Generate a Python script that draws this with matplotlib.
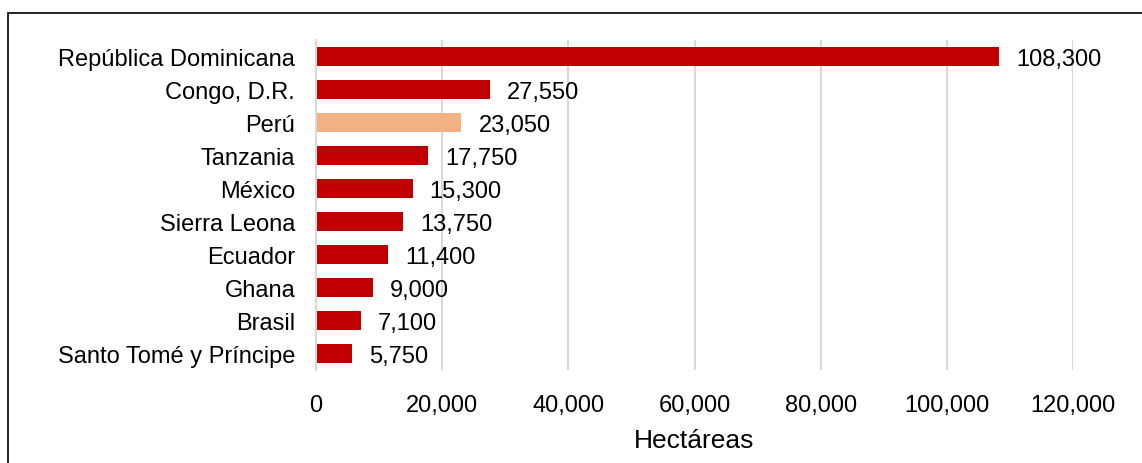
import matplotlib.pyplot as plt
from matplotlib.patches import Rectangle

plt.rcParams['font.family'] = ['Liberation Sans', 'DejaVu Sans']

countries = ['República Dominicana', 'Congo, D.R.', 'Perú', 'Tanzania', 'México',
             'Sierra Leona', 'Ecuador', 'Ghana', 'Brasil', 'Santo Tomé y Príncipe']
hectares = [108300, 27550, 23050, 17750, 15300, 13750, 11400, 9000, 7100, 5750]
highlight = 'Perú'

colors = ['#f4b183' if c == highlight else '#c00000' for c in countries]
ypos = list(range(len(countries)))

fig = plt.figure(figsize=(11.42, 4.64), dpi=100)
ax = fig.add_axes([316 / 1142, 1 - 371 / 464, 757 / 1142, 330 / 464])

ax.barh(ypos, hectares, height=0.6, color=colors, zorder=2)
for y, v in zip(ypos, hectares):
    ax.text(v + 2700, y, f'{v:,}', va='center_baseline', ha='left', fontsize=17)

ax.set_ylim(len(countries) - 0.5, -0.5)
ax.set_xlim(0, 120000)
ax.set_xticks(range(0, 120001, 20000))
ax.set_xticklabels([f'{t:,}' for t in range(0, 120001, 20000)])
ax.set_yticks(ypos)
ax.set_yticklabels(countries)
ax.tick_params(axis='both', length=0, labelsize=17)
ax.tick_params(axis='y', pad=15)
ax.tick_params(axis='x', pad=17)
ax.grid(axis='x', color='#d9d9d9', linewidth=1.5, zorder=0)
for s in ['top', 'right', 'bottom']:
    ax.spines[s].set_visible(False)
ax.spines['left'].set_color('#d9d9d9')
ax.spines['left'].set_linewidth(1.5)
ax.set_xlabel('Hectáreas', fontsize=19, labelpad=9)

# chart frame (runs off the right and bottom edges)
fig.patches.append(Rectangle((8 / 1142, -0.1), 1.2, 1 - 14 / 464 + 0.1,
                             transform=fig.transFigure, fill=False,
                             edgecolor='black', linewidth=1.2))

fig.savefig('out.png', dpi=100)
